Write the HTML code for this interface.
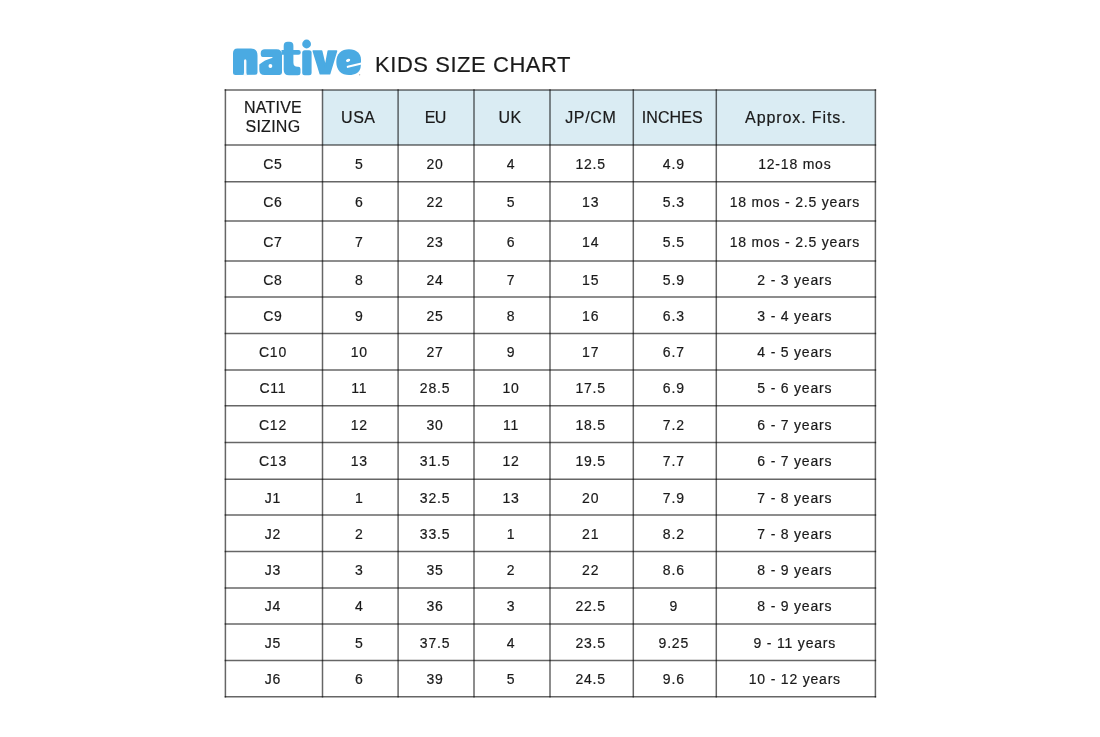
<!DOCTYPE html>
<html><head><meta charset="utf-8"><title>Native Kids Size Chart</title>
<style>
html,body{margin:0;padding:0;background:#fff;}
body{width:1100px;height:737px;position:relative;overflow:hidden;font-family:"Liberation Sans",sans-serif;color:#1a1a1a;}
.t{position:absolute;white-space:nowrap;text-align:center;display:flex;align-items:center;justify-content:center;}
.c{font-size:14px;letter-spacing:0.8px;-webkit-text-stroke:0.2px #1a1a1a;}
.h{font-size:16px;letter-spacing:0px;line-height:19px;-webkit-text-stroke:0.2px #1a1a1a;}
.h2{padding-bottom:1.5px;box-sizing:border-box;}
#title{position:absolute;left:375px;top:50.5px;font-size:22px;letter-spacing:0.55px;line-height:28px;color:#1a1a1a;white-space:nowrap;-webkit-text-stroke:0.2px #1a1a1a;}
svg{position:absolute;left:0;top:0;}
#wrap{position:absolute;left:0;top:0;width:1100px;height:737px;will-change:transform;}
</style></head><body>

<svg width="1100" height="737" viewBox="0 0 1100 737">
<rect x="322.5" y="90.0" width="552.9" height="55.0" fill="#daecf3"/>
<line x1="225.4" y1="89.25" x2="225.4" y2="697.55" stroke="#000" stroke-opacity="0.6" stroke-width="1.5"/>
<line x1="322.5" y1="89.25" x2="322.5" y2="697.55" stroke="#000" stroke-opacity="0.6" stroke-width="1.5"/>
<line x1="398.1" y1="89.25" x2="398.1" y2="697.55" stroke="#000" stroke-opacity="0.6" stroke-width="1.5"/>
<line x1="474.0" y1="89.25" x2="474.0" y2="697.55" stroke="#000" stroke-opacity="0.6" stroke-width="1.5"/>
<line x1="550.0" y1="89.25" x2="550.0" y2="697.55" stroke="#000" stroke-opacity="0.6" stroke-width="1.5"/>
<line x1="633.3" y1="89.25" x2="633.3" y2="697.55" stroke="#000" stroke-opacity="0.6" stroke-width="1.5"/>
<line x1="716.3" y1="89.25" x2="716.3" y2="697.55" stroke="#000" stroke-opacity="0.6" stroke-width="1.5"/>
<line x1="875.4" y1="89.25" x2="875.4" y2="697.55" stroke="#000" stroke-opacity="0.6" stroke-width="1.5"/>
<line x1="224.65" y1="90.0" x2="876.15" y2="90.0" stroke="#000" stroke-opacity="0.6" stroke-width="1.5"/>
<line x1="224.65" y1="145.0" x2="876.15" y2="145.0" stroke="#000" stroke-opacity="0.6" stroke-width="1.5"/>
<line x1="224.65" y1="181.8" x2="876.15" y2="181.8" stroke="#000" stroke-opacity="0.6" stroke-width="1.5"/>
<line x1="224.65" y1="221.1" x2="876.15" y2="221.1" stroke="#000" stroke-opacity="0.6" stroke-width="1.5"/>
<line x1="224.65" y1="261.0" x2="876.15" y2="261.0" stroke="#000" stroke-opacity="0.6" stroke-width="1.5"/>
<line x1="224.65" y1="297.0" x2="876.15" y2="297.0" stroke="#000" stroke-opacity="0.6" stroke-width="1.5"/>
<line x1="224.65" y1="333.5" x2="876.15" y2="333.5" stroke="#000" stroke-opacity="0.6" stroke-width="1.5"/>
<line x1="224.65" y1="370.0" x2="876.15" y2="370.0" stroke="#000" stroke-opacity="0.6" stroke-width="1.5"/>
<line x1="224.65" y1="405.8" x2="876.15" y2="405.8" stroke="#000" stroke-opacity="0.6" stroke-width="1.5"/>
<line x1="224.65" y1="442.5" x2="876.15" y2="442.5" stroke="#000" stroke-opacity="0.6" stroke-width="1.5"/>
<line x1="224.65" y1="479.2" x2="876.15" y2="479.2" stroke="#000" stroke-opacity="0.6" stroke-width="1.5"/>
<line x1="224.65" y1="515.0" x2="876.15" y2="515.0" stroke="#000" stroke-opacity="0.6" stroke-width="1.5"/>
<line x1="224.65" y1="551.4" x2="876.15" y2="551.4" stroke="#000" stroke-opacity="0.6" stroke-width="1.5"/>
<line x1="224.65" y1="588.0" x2="876.15" y2="588.0" stroke="#000" stroke-opacity="0.6" stroke-width="1.5"/>
<line x1="224.65" y1="623.9" x2="876.15" y2="623.9" stroke="#000" stroke-opacity="0.6" stroke-width="1.5"/>
<line x1="224.65" y1="660.4" x2="876.15" y2="660.4" stroke="#000" stroke-opacity="0.6" stroke-width="1.5"/>
<line x1="224.65" y1="696.8" x2="876.15" y2="696.8" stroke="#000" stroke-opacity="0.6" stroke-width="1.5"/>
</svg>
<div id="wrap">
<div class="t h h2" style="letter-spacing:0.25px;left:224.4px;top:90.0px;width:97.1px;height:55.0px">NATIVE<br>SIZING</div>
<div class="t h" style="letter-spacing:0.5px;left:320.5px;top:90.0px;width:75.60000000000002px;height:55.0px">USA</div>
<div class="t h" style="letter-spacing:-0.5px;left:397.3px;top:90.0px;width:75.89999999999998px;height:55.0px">EU</div>
<div class="t h" style="letter-spacing:0.5px;left:472.2px;top:90.0px;width:76.0px;height:55.0px">UK</div>
<div class="t h" style="letter-spacing:0.65px;left:549.2px;top:90.0px;width:83.29999999999995px;height:55.0px">JP/CM</div>
<div class="t h" style="letter-spacing:0.1px;left:630.8px;top:90.0px;width:83.0px;height:55.0px">INCHES</div>
<div class="t h" style="letter-spacing:0.9px;left:716.3px;top:90.0px;width:159.10000000000002px;height:55.0px">Approx. Fits.</div>
<div class="t c" style="left:224.4px;top:145.5px;width:97.1px;height:36.80000000000001px">C5</div>
<div class="t c" style="left:321.5px;top:145.5px;width:75.60000000000002px;height:36.80000000000001px">5</div>
<div class="t c" style="left:397.1px;top:145.5px;width:75.89999999999998px;height:36.80000000000001px">20</div>
<div class="t c" style="left:473.0px;top:145.5px;width:76.0px;height:36.80000000000001px">4</div>
<div class="t c" style="left:549.0px;top:145.5px;width:83.29999999999995px;height:36.80000000000001px">12.5</div>
<div class="t c" style="left:632.3px;top:145.5px;width:83.0px;height:36.80000000000001px">4.9</div>
<div class="t c" style="left:715.3px;top:145.5px;width:159.10000000000002px;height:36.80000000000001px">12-18 mos</div>
<div class="t c" style="left:224.4px;top:182.3px;width:97.1px;height:39.29999999999998px">C6</div>
<div class="t c" style="left:321.5px;top:182.3px;width:75.60000000000002px;height:39.29999999999998px">6</div>
<div class="t c" style="left:397.1px;top:182.3px;width:75.89999999999998px;height:39.29999999999998px">22</div>
<div class="t c" style="left:473.0px;top:182.3px;width:76.0px;height:39.29999999999998px">5</div>
<div class="t c" style="left:549.0px;top:182.3px;width:83.29999999999995px;height:39.29999999999998px">13</div>
<div class="t c" style="left:632.3px;top:182.3px;width:83.0px;height:39.29999999999998px">5.3</div>
<div class="t c" style="left:715.3px;top:182.3px;width:159.10000000000002px;height:39.29999999999998px">18 mos - 2.5 years</div>
<div class="t c" style="left:224.4px;top:221.6px;width:97.1px;height:39.900000000000006px">C7</div>
<div class="t c" style="left:321.5px;top:221.6px;width:75.60000000000002px;height:39.900000000000006px">7</div>
<div class="t c" style="left:397.1px;top:221.6px;width:75.89999999999998px;height:39.900000000000006px">23</div>
<div class="t c" style="left:473.0px;top:221.6px;width:76.0px;height:39.900000000000006px">6</div>
<div class="t c" style="left:549.0px;top:221.6px;width:83.29999999999995px;height:39.900000000000006px">14</div>
<div class="t c" style="left:632.3px;top:221.6px;width:83.0px;height:39.900000000000006px">5.5</div>
<div class="t c" style="left:715.3px;top:221.6px;width:159.10000000000002px;height:39.900000000000006px">18 mos - 2.5 years</div>
<div class="t c" style="left:224.4px;top:261.5px;width:97.1px;height:36.0px">C8</div>
<div class="t c" style="left:321.5px;top:261.5px;width:75.60000000000002px;height:36.0px">8</div>
<div class="t c" style="left:397.1px;top:261.5px;width:75.89999999999998px;height:36.0px">24</div>
<div class="t c" style="left:473.0px;top:261.5px;width:76.0px;height:36.0px">7</div>
<div class="t c" style="left:549.0px;top:261.5px;width:83.29999999999995px;height:36.0px">15</div>
<div class="t c" style="left:632.3px;top:261.5px;width:83.0px;height:36.0px">5.9</div>
<div class="t c" style="left:715.3px;top:261.5px;width:159.10000000000002px;height:36.0px">2 - 3 years</div>
<div class="t c" style="left:224.4px;top:297.5px;width:97.1px;height:36.5px">C9</div>
<div class="t c" style="left:321.5px;top:297.5px;width:75.60000000000002px;height:36.5px">9</div>
<div class="t c" style="left:397.1px;top:297.5px;width:75.89999999999998px;height:36.5px">25</div>
<div class="t c" style="left:473.0px;top:297.5px;width:76.0px;height:36.5px">8</div>
<div class="t c" style="left:549.0px;top:297.5px;width:83.29999999999995px;height:36.5px">16</div>
<div class="t c" style="left:632.3px;top:297.5px;width:83.0px;height:36.5px">6.3</div>
<div class="t c" style="left:715.3px;top:297.5px;width:159.10000000000002px;height:36.5px">3 - 4 years</div>
<div class="t c" style="left:224.4px;top:334.0px;width:97.1px;height:36.5px">C10</div>
<div class="t c" style="left:321.5px;top:334.0px;width:75.60000000000002px;height:36.5px">10</div>
<div class="t c" style="left:397.1px;top:334.0px;width:75.89999999999998px;height:36.5px">27</div>
<div class="t c" style="left:473.0px;top:334.0px;width:76.0px;height:36.5px">9</div>
<div class="t c" style="left:549.0px;top:334.0px;width:83.29999999999995px;height:36.5px">17</div>
<div class="t c" style="left:632.3px;top:334.0px;width:83.0px;height:36.5px">6.7</div>
<div class="t c" style="left:715.3px;top:334.0px;width:159.10000000000002px;height:36.5px">4 - 5 years</div>
<div class="t c" style="left:224.4px;top:370.5px;width:97.1px;height:35.80000000000001px">C11</div>
<div class="t c" style="left:321.5px;top:370.5px;width:75.60000000000002px;height:35.80000000000001px">11</div>
<div class="t c" style="left:397.1px;top:370.5px;width:75.89999999999998px;height:35.80000000000001px">28.5</div>
<div class="t c" style="left:473.0px;top:370.5px;width:76.0px;height:35.80000000000001px">10</div>
<div class="t c" style="left:549.0px;top:370.5px;width:83.29999999999995px;height:35.80000000000001px">17.5</div>
<div class="t c" style="left:632.3px;top:370.5px;width:83.0px;height:35.80000000000001px">6.9</div>
<div class="t c" style="left:715.3px;top:370.5px;width:159.10000000000002px;height:35.80000000000001px">5 - 6 years</div>
<div class="t c" style="left:224.4px;top:406.3px;width:97.1px;height:36.69999999999999px">C12</div>
<div class="t c" style="left:321.5px;top:406.3px;width:75.60000000000002px;height:36.69999999999999px">12</div>
<div class="t c" style="left:397.1px;top:406.3px;width:75.89999999999998px;height:36.69999999999999px">30</div>
<div class="t c" style="left:473.0px;top:406.3px;width:76.0px;height:36.69999999999999px">11</div>
<div class="t c" style="left:549.0px;top:406.3px;width:83.29999999999995px;height:36.69999999999999px">18.5</div>
<div class="t c" style="left:632.3px;top:406.3px;width:83.0px;height:36.69999999999999px">7.2</div>
<div class="t c" style="left:715.3px;top:406.3px;width:159.10000000000002px;height:36.69999999999999px">6 - 7 years</div>
<div class="t c" style="left:224.4px;top:443.0px;width:97.1px;height:36.69999999999999px">C13</div>
<div class="t c" style="left:321.5px;top:443.0px;width:75.60000000000002px;height:36.69999999999999px">13</div>
<div class="t c" style="left:397.1px;top:443.0px;width:75.89999999999998px;height:36.69999999999999px">31.5</div>
<div class="t c" style="left:473.0px;top:443.0px;width:76.0px;height:36.69999999999999px">12</div>
<div class="t c" style="left:549.0px;top:443.0px;width:83.29999999999995px;height:36.69999999999999px">19.5</div>
<div class="t c" style="left:632.3px;top:443.0px;width:83.0px;height:36.69999999999999px">7.7</div>
<div class="t c" style="left:715.3px;top:443.0px;width:159.10000000000002px;height:36.69999999999999px">6 - 7 years</div>
<div class="t c" style="left:224.4px;top:479.7px;width:97.1px;height:35.80000000000001px">J1</div>
<div class="t c" style="left:321.5px;top:479.7px;width:75.60000000000002px;height:35.80000000000001px">1</div>
<div class="t c" style="left:397.1px;top:479.7px;width:75.89999999999998px;height:35.80000000000001px">32.5</div>
<div class="t c" style="left:473.0px;top:479.7px;width:76.0px;height:35.80000000000001px">13</div>
<div class="t c" style="left:549.0px;top:479.7px;width:83.29999999999995px;height:35.80000000000001px">20</div>
<div class="t c" style="left:632.3px;top:479.7px;width:83.0px;height:35.80000000000001px">7.9</div>
<div class="t c" style="left:715.3px;top:479.7px;width:159.10000000000002px;height:35.80000000000001px">7 - 8 years</div>
<div class="t c" style="left:224.4px;top:515.5px;width:97.1px;height:36.39999999999998px">J2</div>
<div class="t c" style="left:321.5px;top:515.5px;width:75.60000000000002px;height:36.39999999999998px">2</div>
<div class="t c" style="left:397.1px;top:515.5px;width:75.89999999999998px;height:36.39999999999998px">33.5</div>
<div class="t c" style="left:473.0px;top:515.5px;width:76.0px;height:36.39999999999998px">1</div>
<div class="t c" style="left:549.0px;top:515.5px;width:83.29999999999995px;height:36.39999999999998px">21</div>
<div class="t c" style="left:632.3px;top:515.5px;width:83.0px;height:36.39999999999998px">8.2</div>
<div class="t c" style="left:715.3px;top:515.5px;width:159.10000000000002px;height:36.39999999999998px">7 - 8 years</div>
<div class="t c" style="left:224.4px;top:551.9px;width:97.1px;height:36.60000000000002px">J3</div>
<div class="t c" style="left:321.5px;top:551.9px;width:75.60000000000002px;height:36.60000000000002px">3</div>
<div class="t c" style="left:397.1px;top:551.9px;width:75.89999999999998px;height:36.60000000000002px">35</div>
<div class="t c" style="left:473.0px;top:551.9px;width:76.0px;height:36.60000000000002px">2</div>
<div class="t c" style="left:549.0px;top:551.9px;width:83.29999999999995px;height:36.60000000000002px">22</div>
<div class="t c" style="left:632.3px;top:551.9px;width:83.0px;height:36.60000000000002px">8.6</div>
<div class="t c" style="left:715.3px;top:551.9px;width:159.10000000000002px;height:36.60000000000002px">8 - 9 years</div>
<div class="t c" style="left:224.4px;top:588.5px;width:97.1px;height:35.89999999999998px">J4</div>
<div class="t c" style="left:321.5px;top:588.5px;width:75.60000000000002px;height:35.89999999999998px">4</div>
<div class="t c" style="left:397.1px;top:588.5px;width:75.89999999999998px;height:35.89999999999998px">36</div>
<div class="t c" style="left:473.0px;top:588.5px;width:76.0px;height:35.89999999999998px">3</div>
<div class="t c" style="left:549.0px;top:588.5px;width:83.29999999999995px;height:35.89999999999998px">22.5</div>
<div class="t c" style="left:632.3px;top:588.5px;width:83.0px;height:35.89999999999998px">9</div>
<div class="t c" style="left:715.3px;top:588.5px;width:159.10000000000002px;height:35.89999999999998px">8 - 9 years</div>
<div class="t c" style="left:224.4px;top:624.4px;width:97.1px;height:36.5px">J5</div>
<div class="t c" style="left:321.5px;top:624.4px;width:75.60000000000002px;height:36.5px">5</div>
<div class="t c" style="left:397.1px;top:624.4px;width:75.89999999999998px;height:36.5px">37.5</div>
<div class="t c" style="left:473.0px;top:624.4px;width:76.0px;height:36.5px">4</div>
<div class="t c" style="left:549.0px;top:624.4px;width:83.29999999999995px;height:36.5px">23.5</div>
<div class="t c" style="left:632.3px;top:624.4px;width:83.0px;height:36.5px">9.25</div>
<div class="t c" style="left:715.3px;top:624.4px;width:159.10000000000002px;height:36.5px">9 - 11 years</div>
<div class="t c" style="left:224.4px;top:660.9px;width:97.1px;height:36.39999999999998px">J6</div>
<div class="t c" style="left:321.5px;top:660.9px;width:75.60000000000002px;height:36.39999999999998px">6</div>
<div class="t c" style="left:397.1px;top:660.9px;width:75.89999999999998px;height:36.39999999999998px">39</div>
<div class="t c" style="left:473.0px;top:660.9px;width:76.0px;height:36.39999999999998px">5</div>
<div class="t c" style="left:549.0px;top:660.9px;width:83.29999999999995px;height:36.39999999999998px">24.5</div>
<div class="t c" style="left:632.3px;top:660.9px;width:83.0px;height:36.39999999999998px">9.6</div>
<div class="t c" style="left:715.3px;top:660.9px;width:159.10000000000002px;height:36.39999999999998px">10 - 12 years</div>
<div id="title">KIDS SIZE CHART</div>
</div>
<svg width="1100" height="737" viewBox="0 0 1100 737">
<g fill="#4aaae2" stroke="none">
<path d="M233,72.5 L233,53.2 Q233,48.8 237.4,48.6 L251,48.4 Q257.5,48.4 257.5,55.5 L257.5,72.5 Q257.5,74.8 255.2,74.8 L235.5,75 Q233,75 233,72.5 Z"/>
<path d="M259.3,69.8 L259.3,64.6 Q264.5,59.8 272,57.9 Q273.6,57.4 272,56.9 L262.8,56.9 Q260.7,56.9 260.7,53.4 C260.7,50.6 262.2,49.2 264.8,49.2 L276.5,49.2 Q282,49.2 282,54.8 L282,72.6 Q282,75 279.6,75 L264.5,75 Q259.3,75 259.3,69.8 Z"/>
<path d="M281.5,50 L283.7,50 L283.7,45.7 Q283.7,41.7 287.7,41.7 L289.4,41.7 Q293.4,41.7 293.4,45.7 L293.4,50 L298.4,50 Q300.8,50 300.8,52.4 Q300.8,54.8 298.4,54.8 L293.4,54.8 L293.4,62.5 Q293.4,66.8 297.7,66.8 L298.3,66.8 Q300.5,66.8 300.5,69 L300.5,73 Q300.5,75.3 298,75.3 L289,75.3 Q283.7,75.3 283.7,70 L283.7,54.8 L281.5,54.8 Z"/>
<circle cx="306.6" cy="44" r="4.4"/>
<rect x="302.2" y="50.2" width="9.4" height="25.1" rx="2.5"/>
<path d="M313.3,51 L321.6,51 L325.3,66.8 L328.3,51 L336.5,51 L329.6,73.8 L320.3,73.8 Z" stroke="#4aaae2" stroke-width="1.6" stroke-linejoin="round"/>
<path d="M336.3,62 C336.3,53.5 341.5,49.2 349,49.2 C356.5,49.2 361,53.5 361,59.5 L361,63.5 L360.5,68 C359.5,72.5 355,75 349,75 C341.5,75 336.3,70.5 336.3,62 Z"/>
</g>
<g fill="#fff" stroke="none">
<path d="M242.4,75.5 Q244,75.2 244,72.8 L244,60.8 Q244,59.2 245.2,59.2 Q246.4,59.2 246.4,60.8 L246.4,72.8 Q246.4,75.2 248,75.5 Z" fill="#f4fafe"/>
<ellipse cx="270.4" cy="66.1" rx="1.9" ry="2"/>
<ellipse cx="348.1" cy="60.3" rx="2.2" ry="1.5" transform="rotate(-20 348.1 60.3)"/>
</g>
<path d="M347.8,66.8 L362.5,63.2" stroke="#fff" stroke-width="2.2" stroke-linecap="round" fill="none"/>
<circle cx="359.6" cy="74.7" r="0.7" fill="#b8b8b8"/>
</svg>
</body></html>
